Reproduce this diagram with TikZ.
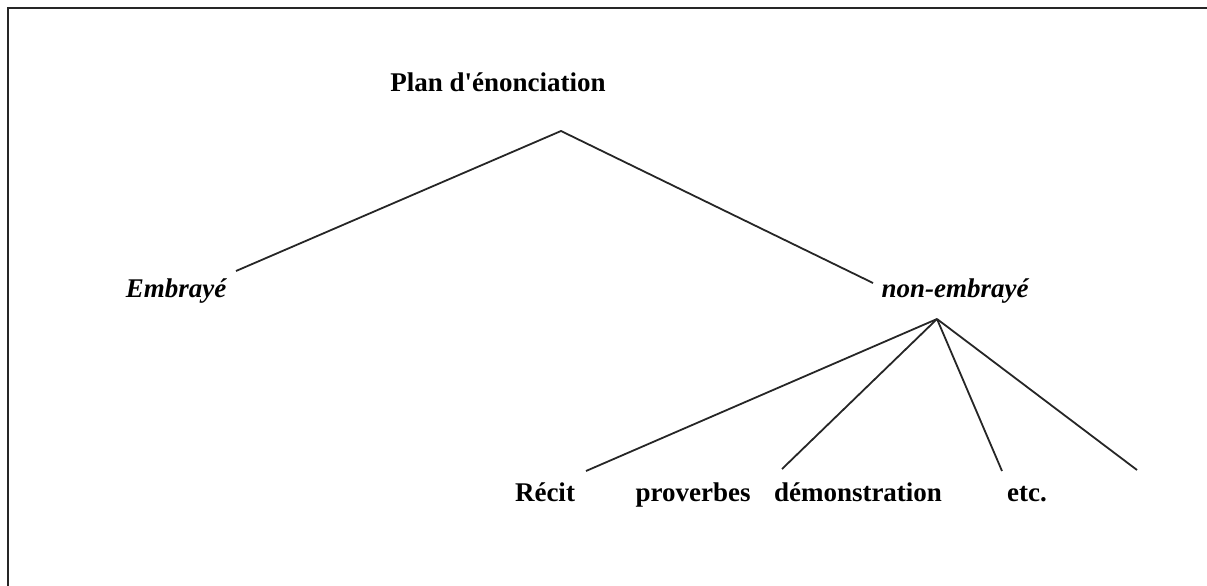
\documentclass[tikz,border=0pt]{standalone}
\usepackage{fontspec}
\newfontfamily\tms{Liberation Serif}
\begin{document}
\begin{tikzpicture}[x=1pt,y=-1pt,
  lbl/.style={font=\tms\fontsize{27}{32}\selectfont\bfseries, inner sep=0pt, anchor=base},
  lbli/.style={lbl, font=\tms\fontsize{27}{32}\selectfont\bfseries\itshape},
  branch/.style={line width=1.8pt, black!85},
  frame/.style={line width=2.5pt, black!85}]
\useasboundingbox (0,0) rectangle (1207,586);
% frame (top and left sides visible)
\coordinate (ftr) at (1207,8);
\coordinate (ftl) at (8,8);
\coordinate (fbl) at (8,586);
\draw[frame] (ftr) -- (ftl) -- (fbl);
% labels
\node[lbl] (plan) at (498,91) {Plan d'énonciation};
\node[lbli] (emb) at (176,297) {Embrayé};
\node[lbli] (nonemb) at (955,297) {non-embrayé};
\node[lbl] (recit) at (545,501) {Récit};
\node[lbl] (prov) at (693,501) {proverbes};
\node[lbl] (demo) at (858,501) {démonstration};
\node[lbl] (etc) at (1027,501) {etc.};
% branch points
\coordinate (top) at (561,131);
\coordinate (embend) at (236,271);
\coordinate (nonend) at (873,283);
\coordinate (sub) at (937,319);
\coordinate (e1) at (586,471);
\coordinate (e2) at (782,469);
\coordinate (e3) at (1002,471);
\coordinate (e4) at (1137,470);
\draw[branch] (embend) -- (top) -- (nonend);
\draw[branch] (sub) -- (e1);
\draw[branch] (sub) -- (e2);
\draw[branch] (sub) -- (e3);
\draw[branch] (sub) -- (e4);
\end{tikzpicture}
\end{document}
